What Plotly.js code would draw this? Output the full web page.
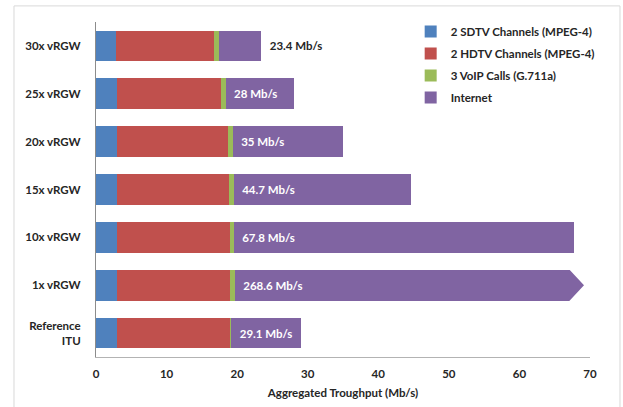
<!DOCTYPE html>
<html>
<head>
<meta charset="utf-8">
<script src="https://cdn.plot.ly/plotly-3.0.1.min.js"></script>
<style>
  html, body { margin: 0; padding: 0; background: #ffffff; }
  #chart { width: 623px; height: 407px; }
</style>
</head>
<body>
<div id="chart"></div>
<script>
// Gateway configurations, listed top to bottom
const configs = ['30x vRGW', '25x vRGW', '20x vRGW', '15x vRGW', '10x vRGW', '1x vRGW', 'Reference<br>ITU'];

// Per-service throughput (Mb/s)
const sdtv = [2.85, 3.0, 3.0, 3.0, 3.0, 3.0, 3.0];
const hdtv = [13.9, 14.7, 15.7, 15.85, 15.95, 16.0, 16.0];
const voip = [0.65, 0.65, 0.65, 0.65, 0.55, 0.65, 0.15];

// Aggregated throughput per configuration (Mb/s)
const totals = [23.4, 28, 35, 44.7, 67.8, 268.6, 29.1];

// Internet share is whatever remains of the aggregate
const internet = totals.map((t, i) => +(t - sdtv[i] - hdtv[i] - voip[i]).toFixed(2));
// leading spaces keep the label clear of the segment edge
const totalLabels = totals.map(t => '\u00a0\u00a0' + t + ' Mb/s');

const xTicks = [0, 10, 20, 30, 40, 50, 60, 70];

const FONT = 'Lato, "Open Sans", sans-serif';
const INK = '#262626';
const BAR_WIDTH = 0.64;

function seg(name, values, color) {
  return {
    type: 'bar', orientation: 'h', name: name,
    x: values, y: configs, width: BAR_WIDTH,
    marker: { color: color, line: { width: 0 } },
    legendgroup: name,
    hoverinfo: 'x+name'
  };
}

const traces = [
  seg('2 SDTV Channels (MPEG-4)', sdtv, '#4F81BD'),
  seg('2 HDTV Channels (MPEG-4)', hdtv, '#C0504D'),
  seg('3 VoIP Calls (G.711a)', voip, '#9BBB59'),
  Object.assign(seg('Internet', internet, '#8064A2'), {
    text: totalLabels,
    // short Internet segments carry their label just past the bar end
    textposition: internet.map(v => v > 8 ? 'inside' : 'outside'),
    insidetextanchor: 'start',
    constraintext: 'none',
    cliponaxis: true,
    insidetextfont: { family: FONT, size: 11.5, color: '#ffffff', weight: 'bold' },
    outsidetextfont: { family: FONT, size: 11.5, color: INK, weight: 'bold' }
  })
];

// The 1x bar runs off the scale; notch its end into an arrow
const broken = configs.indexOf('1x vRGW');
const BREAK_START = 67.0, BREAK_TIP = 69.15, half = BAR_WIDTH / 2 + 0.02;

const layout = {
  width: 623, height: 407,
  margin: { l: 96, r: 33, t: 22, b: 50 },
  paper_bgcolor: '#ffffff', plot_bgcolor: '#ffffff',
  barmode: 'stack',
  bargap: 0.36,
  font: { family: FONT, size: 11.5, color: INK, weight: 'bold' },
  showlegend: true,
  legend: {
    x: 0.637, y: 1.015, xanchor: 'left', yanchor: 'top',
    traceorder: 'grouped', tracegroupgap: 3,
    itemwidth: 30,
    bgcolor: 'rgba(0,0,0,0)',
    font: { family: FONT, size: 11.5, color: INK, weight: 'bold' }
  },
  xaxis: {
    range: [0, 70], tickvals: xTicks, ticktext: xTicks.map(String),
    showgrid: false, zeroline: false,
    showline: true, linecolor: '#b3b3b3', linewidth: 1,
    ticks: '', ticklabelstandoff: 6,
    tickfont: { family: FONT, size: 11.5, color: INK, weight: 'bold' },
    title: { text: 'Aggregated Troughput (Mb/s)', standoff: 10,
             font: { family: FONT, size: 11.5, color: INK, weight: 'bold' } },
    fixedrange: true
  },
  yaxis: {
    autorange: 'reversed', type: 'category',
    showgrid: false, zeroline: false,
    showline: true, linecolor: '#8c8c8c', linewidth: 1,
    ticks: '', ticklabelstandoff: 12,
    tickfont: { family: FONT, size: 11.5, color: INK, weight: 'bold' },
    fixedrange: true
  },
  shapes: [
    {
      type: 'path', xref: 'x', yref: 'y', layer: 'above',
      path: `M ${BREAK_START},${broken - half} L 71,${broken - half} L 71,${broken + half} ` +
            `L ${BREAK_START},${broken + half} L ${BREAK_TIP},${broken} Z`,
      fillcolor: '#ffffff', line: { width: 0 }
    },
    {
      type: 'rect', xref: 'paper', yref: 'paper', layer: 'below',
      x0: -0.166, x1: 1.0607, y0: -0.3, y1: 1.048,
      line: { color: '#d9d9d9', width: 1 }, fillcolor: 'rgba(0,0,0,0)'
    }
  ]
};

Plotly.newPlot('chart', traces, layout, { displayModeBar: false, staticPlot: true });
</script>
</body>
</html>
